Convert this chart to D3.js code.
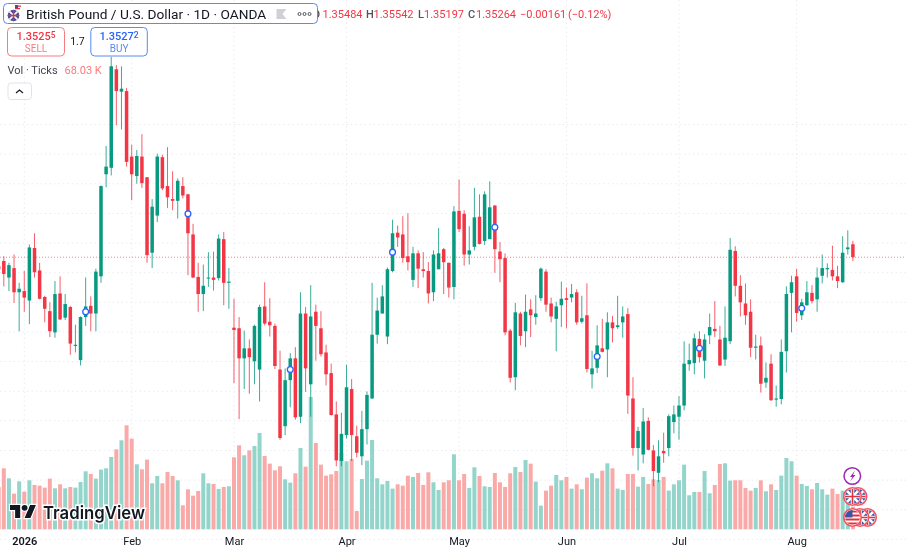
<!DOCTYPE html>
<html>
<head>
<meta charset="utf-8">
<script src="https://cdn.jsdelivr.net/npm/d3@7"></script>
<style>
	html, body { margin: 0; background: #fff; overflow: hidden; }
	text { font-family: Roboto, sans-serif; }
</style>
</head>
<body>
<script>
//daily bars, oldest first
let open = [
	1.3511,1.3520,1.3492,1.3508,1.3467,1.3469,1.3453,1.3542,1.3504,1.3459,
	1.3435,1.3399,1.3465,1.3424,1.3442,1.3376,1.3352,1.3425,1.3444,1.3431,
	1.3494,1.3667,1.3678,1.3845,1.3807,1.3808,1.3697,1.3664,1.3697,1.3662,
	1.3534,1.3597,1.3696,1.3647,1.3625,1.3622,1.3647,1.3633,1.3565,1.3493,
	1.3464,1.3491,1.3492,1.3491,1.3557,1.3483,1.3407,1.3406,1.3355,1.3372,
	1.3350,1.3336,1.3443,1.3417,1.3410,1.3336,1.3240,1.3318,1.3355,1.3256,
	1.3431,1.3311,1.3434,1.3406,1.3365,1.3330,1.3260,1.3181,1.3225,1.3303,
	1.3223,1.3189,1.3235,1.3287,1.3395,1.3431,1.3392,1.3503,1.3568,1.3565,
	1.3528,1.3488,1.3533,1.3506,1.3503,1.3467,1.3506,1.3540,1.3517,1.3476,
	1.3605,1.3600,1.3531,1.3544,1.3595,1.3554,1.3557,1.3614,1.3536,1.3525,
	1.3402,1.3323,1.3431,1.3401,1.3438,1.3425,1.3457,1.3502,1.3448,1.3422,
	1.3445,1.3457,1.3458,1.3467,1.3417,1.3428,1.3328,1.3339,1.3372,1.3370,
	1.3416,1.3408,1.3416,1.3430,1.3287,1.3203,1.3192,1.3249,1.3199,1.3161,
	1.3198,1.3203,1.3247,1.3256,1.3275,1.3345,1.3347,1.3388,1.3351,1.3394,
	1.3405,1.3387,1.3353,1.3384,1.3537,1.3478,1.3448,1.3434,1.3373,1.3377,
	1.3314,1.3346,1.3285,1.3286,1.3367,1.3466,1.3494,1.3428,1.3445,1.3466,
	1.3455,1.3495,1.3506,1.3505,1.3494,1.3484,1.3540,1.35484
];
let high = [
	1.3516,1.3528,1.3517,1.3531,1.3483,1.3503,1.3548,1.3567,1.3517,1.3461,
	1.3450,1.3486,1.3494,1.3464,1.3444,1.3412,1.3426,1.3492,1.3460,1.3507,
	1.3648,1.3715,1.3866,1.3852,1.3850,1.3813,1.3717,1.3708,1.3735,1.3662,
	1.3625,1.3702,1.3700,1.3713,1.3672,1.3660,1.3662,1.3634,1.3583,1.3517,
	1.3514,1.3535,1.3536,1.3565,1.3569,1.3508,1.3456,1.3425,1.3402,1.3387,
	1.3412,1.3446,1.3484,1.3457,1.3414,1.3368,1.3338,1.3364,1.3374,1.3467,
	1.3442,1.3479,1.3446,1.3435,1.3378,1.3346,1.3282,1.3263,1.3344,1.3320,
	1.3241,1.3266,1.3299,1.3483,1.3458,1.3479,1.3509,1.3590,1.3580,1.3596,
	1.3601,1.3544,1.3538,1.3535,1.3518,1.3538,1.3576,1.3542,1.3517,1.3613,
	1.3658,1.3606,1.3579,1.3644,1.3633,1.3638,1.3655,1.3615,1.3552,1.3533,
	1.3405,1.3449,1.3434,1.3463,1.3455,1.3462,1.3509,1.3506,1.3458,1.3451,
	1.3485,1.3475,1.3481,1.3472,1.3461,1.3482,1.3368,1.3411,1.3422,1.3433,
	1.3427,1.3461,1.3443,1.3440,1.3323,1.3239,1.3271,1.3255,1.3208,1.3216,
	1.3229,1.3260,1.3275,1.3291,1.3384,1.3380,1.3397,1.3401,1.3396,1.3431,
	1.3452,1.3410,1.3443,1.3559,1.3545,1.3496,1.3482,1.3455,1.3395,1.3392,
	1.3348,1.3362,1.3309,1.3387,1.3477,1.3495,1.3507,1.3456,1.3486,1.3479,
	1.3509,1.3531,1.3516,1.3546,1.3512,1.3562,1.3572,1.35542
];
let low = [
	1.3501,1.3477,1.3469,1.3449,1.3401,1.3434,1.3413,1.3492,1.3455,1.3416,
	1.3391,1.3390,1.3420,1.3420,1.3361,1.3365,1.3343,1.3410,1.3401,1.3401,
	1.3483,1.3645,1.3665,1.3750,1.3743,1.3680,1.3623,1.3651,1.3644,1.3517,
	1.3508,1.3586,1.3640,1.3610,1.3606,1.3592,1.3626,1.3496,1.3491,1.3434,
	1.3435,1.3476,1.3470,1.3487,1.3445,1.3439,1.3313,1.3252,1.3303,1.3295,
	1.3311,1.3282,1.3411,1.3392,1.3337,1.3217,1.3225,1.3272,1.3251,1.3245,
	1.3298,1.3256,1.3351,1.3358,1.3309,1.3258,1.3172,1.3172,1.3219,1.3181,
	1.3187,1.3174,1.3209,1.3286,1.3380,1.3431,1.3379,1.3501,1.3544,1.3517,
	1.3504,1.3476,1.3474,1.3492,1.3448,1.3452,1.3506,1.3464,1.3458,1.3455,
	1.3569,1.3512,1.3514,1.3538,1.3548,1.3547,1.3557,1.3500,1.3484,1.3394,
	1.3314,1.3301,1.3377,1.3374,1.3391,1.3412,1.3452,1.3434,1.3416,1.3367,
	1.3408,1.3406,1.3450,1.3412,1.3414,1.3331,1.3304,1.3330,1.3365,1.3323,
	1.3382,1.3405,1.3390,1.3261,1.3190,1.3165,1.3177,1.3199,1.3138,1.3145,
	1.3178,1.3189,1.3228,1.3217,1.3267,1.3334,1.3328,1.3348,1.3321,1.3379,
	1.3391,1.3342,1.3342,1.3379,1.3460,1.3426,1.3412,1.3357,1.3353,1.3297,
	1.3305,1.3283,1.3273,1.3277,1.3331,1.3399,1.3417,1.3420,1.3444,1.3448,
	1.3434,1.3482,1.3492,1.3487,1.3474,1.3483,1.3531,1.35197
];
let close = [
	1.3506,1.3498,1.3513,1.3467,1.3473,1.3458,1.3543,1.3501,1.3456,1.3439,
	1.3401,1.3464,1.3421,1.3447,1.3380,1.3378,1.3425,1.3443,1.3431,1.3502,
	1.3647,1.3680,1.3850,1.3808,1.3812,1.3688,1.3667,1.3698,1.3652,1.3530,
	1.3612,1.3697,1.3643,1.3628,1.3622,1.3656,1.3631,1.3567,1.3492,1.3464,
	1.3478,1.3492,1.3488,1.3558,1.3483,1.3485,1.3403,1.3355,1.3372,1.3357,
	1.3410,1.3442,1.3414,1.3411,1.3342,1.3220,1.3318,1.3355,1.3255,1.3431,
	1.3338,1.3426,1.3410,1.3362,1.3328,1.3259,1.3182,1.3227,1.3306,1.3225,
	1.3195,1.3235,1.3293,1.3395,1.3436,1.3460,1.3506,1.3567,1.3560,1.3525,
	1.3518,1.3533,1.3507,1.3503,1.3465,1.3531,1.3533,1.3518,1.3475,1.3604,
	1.3574,1.3531,1.3538,1.3594,1.3549,1.3633,1.3611,1.3540,1.3523,1.3399,
	1.3322,1.3433,1.3393,1.3434,1.3428,1.3431,1.3507,1.3446,1.3426,1.3443,
	1.3456,1.3454,1.3464,1.3416,1.3423,1.3337,1.3338,1.3377,1.3366,1.3416,
	1.3406,1.3411,1.3426,1.3292,1.3203,1.3232,1.3248,1.3200,1.3164,1.3189,
	1.3194,1.3257,1.3260,1.3275,1.3346,1.3352,1.3389,1.3357,1.3387,1.3408,
	1.3401,1.3343,1.3390,1.3539,1.3478,1.3450,1.3428,1.3373,1.3375,1.3312,
	1.3322,1.3284,1.3287,1.3366,1.3464,1.3484,1.3432,1.3450,1.3467,1.3452,
	1.3492,1.3508,1.3508,1.3494,1.3486,1.3534,1.3543,1.35264
];
//tick volume in thousands
let volume = [
	127,183,153,107,144,113,147,133,131,125,
	152,123,135,123,127,125,142,174,166,152,
	179,183,217,240,267,312,272,195,180,209,
	138,160,138,172,160,147,72,120,101,115,
	168,138,136,121,127,129,216,252,222,237,
	250,289,220,197,177,189,150,140,168,244,
	188,397,259,194,161,165,175,229,204,211,
	55,151,206,268,153,135,145,122,135,131,
	161,157,169,133,171,141,118,141,147,225,
	147,166,124,186,160,129,127,169,141,127,
	168,187,172,208,197,143,71,116,131,163,
	147,157,122,135,120,155,168,153,176,198,
	183,122,118,166,166,128,157,136,150,148,
	157,116,135,147,194,102,112,112,175,108,
	133,196,198,146,147,147,124,116,124,147,
	114,135,118,161,214,204,161,136,130,120,
	139,120,104,122,106,116,116,68.03
];

//time axis labels and which bar each one sits on
let tickLabels = ["2026", "Feb", "Mar", "Apr", "May", "Jun", "Jul", "Aug"];
let tickBars = [5, 26, 46, 68, 90, 111, 133, 156];

//the little ringed dots on some candles
let eventBars = [17, 37, 57, 77, 97, 117, 137, 157];
let eventPrices = [1.3434, 1.3600, 1.3336, 1.3535, 1.3577, 1.3358, 1.3372, 1.3440];

let legendLetters = ["O", "H", "L", "C"];
let legendNumbers = ["1.35484", "1.35542", "1.35197", "1.35264"];
let lastPrice = 1.35264;

let green = "#089981";
let red = "#f23645";
let blue = "#2962ff";
let softRed = "#f77c80";
let softBlue = "#5b8af0";
let volGreen = "#93d4cb";
let volRed = "#f9aaa8";
let textColor = "#131722";

let width = 906;
let height = 550;

//the reference is a slightly soft screenshot
let svg = d3.select("body").append("svg")
	.attr("width", width)
	.attr("height", height)
	.style("display", "block")
	.style("filter", "blur(0.35px)");

//bar number to pixels, same spacing for the whole chart
let x = d3.scaleLinear().domain([0, 167]).range([-1.3, 852.9]);
//price to pixels, 0.005 is about 29.5px
let y = d3.scaleLinear().domain([1.35, 1.40]).range([272.8, -22.2]);
let volY = d3.scaleLinear().domain([0, 300]).range([529.3, 429.3]);

let isUp = i => close[i] >= open[i];
let bars = d3.range(open.length);

//grid lines, the price step lands a little wider than the candle scale
let gridYs = d3.range(-5, 13).map(k => 1.35002 - k * 0.005022);
let grid = svg.append("g")
	.attr("stroke", "#e9ebf0")
	.attr("stroke-dasharray", "1.5 3");
grid.selectAll("line.h").data(gridYs).enter().append("line")
	.attr("class", "h")
	.attr("x1", 0).attr("x2", width)
	.attr("y1", d => y(d)).attr("y2", d => y(d));
grid.selectAll("line.v").data(tickBars).enter().append("line")
	.attr("class", "v")
	.attr("x1", d => x(d)).attr("x2", d => x(d))
	.attr("y1", 0).attr("y2", 530);

//volume goes under the candles
svg.append("g").selectAll("rect").data(bars).enter().append("rect")
	.attr("x", i => x(i) - 2)
	.attr("width", 4)
	.attr("y", i => volY(volume[i]))
	.attr("height", i => volY(0) - volY(volume[i]))
	.attr("fill", i => isUp(i) ? volGreen : volRed);

//last price line
svg.append("line")
	.attr("x1", 0).attr("x2", width)
	.attr("y1", y(lastPrice)).attr("y2", y(lastPrice))
	.attr("stroke", red)
	.attr("stroke-opacity", 0.6)
	.attr("stroke-dasharray", "1 2");

let candles = svg.append("g");
candles.selectAll("line").data(bars).enter().append("line")
	.attr("x1", i => x(i)).attr("x2", i => x(i))
	.attr("y1", i => y(high[i])).attr("y2", i => y(low[i]))
	.attr("stroke", i => isUp(i) ? green : red)
	.attr("stroke-opacity", 0.8);
candles.selectAll("rect").data(bars).enter().append("rect")
	.attr("x", i => x(i) - 1.75)
	.attr("width", 3.5)
	.attr("y", i => y(Math.max(open[i], close[i])))
	.attr("height", i => Math.max(1, y(Math.min(open[i], close[i])) - y(Math.max(open[i], close[i]))))
	.attr("fill", i => isUp(i) ? green : red);

//ringed dots
svg.append("g").selectAll("circle").data(eventBars).enter().append("circle")
	.attr("cx", d => x(d))
	.attr("cy", (d, i) => y(eventPrices[i]))
	.attr("r", 2.9)
	.attr("fill", "#fff")
	.attr("stroke", blue)
	.attr("stroke-width", 1.3);

//time axis
let timeAxis = d3.axisBottom(x)
	.tickValues(tickBars)
	.tickSize(0)
	.tickPadding(0)
	.tickFormat((d, i) => tickLabels[i]);
let timeG = svg.append("g")
	.attr("transform", "translate(0, 537)")
	.call(timeAxis);
timeG.select(".domain").remove();
timeG.selectAll("text")
	.attr("font-size", 11)
	.style("font-family", "Roboto, sans-serif")
	.attr("fill", textColor)
	.attr("font-weight", (d, i) => i == 0 ? 600 : 400);

//open high low close row, the O slides under the legend box
let letterXs = [312.5, 366, 418, 468];
let numberXs = [322.5, 373.5, 424, 476];
let ohlc = svg.append("g").attr("font-size", 11);
ohlc.selectAll("text.letter").data(legendLetters).enter().append("text")
	.attr("class", "letter")
	.attr("x", (d, i) => letterXs[i]).attr("y", 18)
	.attr("fill", "#50535e")
	.attr("font-weight", 500)
	.text(d => d);
ohlc.selectAll("text.number").data(legendNumbers).enter().append("text")
	.attr("class", "number")
	.attr("x", (d, i) => numberXs[i]).attr("y", 18)
	.attr("fill", red)
	.text(d => d);
ohlc.append("text").attr("x", 520).attr("y", 18).attr("fill", red).text("−0.00161");
ohlc.append("text").attr("x", 568).attr("y", 18).attr("fill", red).text("(−0.12%)");

//legend box on top
svg.append("rect")
	.attr("x", 3.5).attr("y", 3.5)
	.attr("width", 314).attr("height", 20)
	.attr("rx", 4)
	.attr("fill", "#fff")
	.attr("stroke", softBlue);
svg.append("text")
	.attr("x", 26).attr("y", 19.3)
	.attr("font-size", 13.7)
	.attr("fill", textColor)
	.text("British Pound / U.S. Dollar · 1D · OANDA");
svg.append("path")
	.attr("d", "M276.5 9h10l-4 5 4 5h-10z")
	.attr("fill", "#cfd1d6");
svg.selectAll("circle.more").data([299.5, 304.5, 309.5]).enter().append("circle")
	.attr("class", "more")
	.attr("cx", d => d).attr("cy", 14)
	.attr("r", 1.5)
	.attr("fill", "none")
	.attr("stroke", "#50535e");

//sell and buy buttons
function button(bx, bw, color, soft, price, last, label) {
	svg.append("rect")
		.attr("x", bx).attr("y", 27.5)
		.attr("width", bw).attr("height", 28.5)
		.attr("rx", 4)
		.attr("fill", "#fff")
		.attr("stroke", soft);
	let t = svg.append("text")
		.attr("x", bx + bw / 2).attr("y", 39.5)
		.attr("text-anchor", "middle")
		.attr("font-size", 11)
		.attr("font-weight", 500)
		.attr("fill", color);
	t.append("tspan").text(price);
	t.append("tspan").attr("font-size", 8.5).attr("dy", -2).text(last);
	svg.append("text")
		.attr("x", bx + bw / 2).attr("y", 52)
		.attr("text-anchor", "middle")
		.attr("font-size", 10)
		.attr("fill", soft)
		.text(label);
}
button(7.5, 57, red, softRed, "1.3525", "5", "SELL");
button(90.8, 56.5, blue, softBlue, "1.3527", "2", "BUY");
svg.append("text")
	.attr("x", 77.5).attr("y", 44.5)
	.attr("text-anchor", "middle")
	.attr("font-size", 10.5)
	.attr("fill", textColor)
	.text("1.7");

//volume legend
svg.append("text")
	.attr("x", 7.5).attr("y", 74)
	.attr("font-size", 11)
	.attr("fill", "#434651")
	.text("Vol · Ticks");
svg.append("text")
	.attr("x", 64.5).attr("y", 74)
	.attr("font-size", 11)
	.attr("fill", softRed)
	.text("68.03 K");
svg.append("rect")
	.attr("x", 8).attr("y", 83)
	.attr("width", 23.5).attr("height", 16.5)
	.attr("rx", 3)
	.attr("fill", "#fff")
	.attr("stroke", "#e0e3eb");
svg.append("path")
	.attr("d", "M16 93l3.5-3 3.5 3")
	.attr("fill", "none")
	.attr("stroke", textColor)
	.attr("stroke-width", 1.2);

//tradingview mark, white halo so it reads over the bars
let logo = svg.append("g");
logo.append("g")
	.attr("transform", "translate(10, 502) scale(0.73)")
	.attr("stroke", "#fff")
	.attr("stroke-width", 3)
	.attr("paint-order", "stroke")
	.attr("fill", textColor)
	.call(function(g) {
		g.append("path").attr("d", "M14 22H7V11H0V4h14v18zM28 22h-8l7.5-18h8L28 22z");
		g.append("circle").attr("cx", 20).attr("cy", 8).attr("r", 4);
	});
logo.append("text")
	.attr("x", 43).attr("y", 518.5)
	.attr("font-size", 17.5)
	.attr("font-weight", 600)
	.style("font-family", "Inter, sans-serif")
	.attr("textLength", 102)
	.attr("lengthAdjust", "spacingAndGlyphs")
	.attr("fill", textColor)
	.attr("stroke", "#fff")
	.attr("stroke-width", 3)
	.attr("paint-order", "stroke")
	.text("TradingView");

//round flags, clipped to a circle
let defs = svg.append("defs");
function flag(cx, cy, kind, id) {
	defs.append("clipPath").attr("id", id)
		.append("circle").attr("cx", cx).attr("cy", cy).attr("r", 7.5);
	let g = svg.append("g");
	g.append("circle")
		.attr("cx", cx).attr("cy", cy).attr("r", 8.7)
		.attr("fill", "#fff")
		.attr("stroke", "#f5525f")
		.attr("stroke-width", 1.6);
	let inner = g.append("g").attr("clip-path", `url(#${id})`);
	if (kind == "uk") {
		inner.append("rect").attr("x", cx - 8).attr("y", cy - 8).attr("width", 16).attr("height", 16).attr("fill", "#3a55a5");
		inner.append("path").attr("d", `M${cx - 8} ${cy - 8}L${cx + 8} ${cy + 8}M${cx + 8} ${cy - 8}L${cx - 8} ${cy + 8}`).attr("stroke", "#fff").attr("stroke-width", 2.5);
		inner.append("path").attr("d", `M${cx} ${cy - 8}V${cy + 8}M${cx - 8} ${cy}H${cx + 8}`).attr("stroke", "#fff").attr("stroke-width", 3.5);
		inner.append("path").attr("d", `M${cx} ${cy - 8}V${cy + 8}M${cx - 8} ${cy}H${cx + 8}`).attr("stroke", "#e0323c").attr("stroke-width", 1.6);
	} else {
		inner.append("rect").attr("x", cx - 8).attr("y", cy - 8).attr("width", 16).attr("height", 16).attr("fill", "#fff");
		inner.selectAll("rect.stripe").data([-7, -3, 1, 5]).enter().append("rect")
			.attr("class", "stripe")
			.attr("x", cx - 8).attr("y", d => cy + d)
			.attr("width", 16).attr("height", 2)
			.attr("fill", "#e0323c");
		inner.append("rect").attr("x", cx - 8).attr("y", cy - 8).attr("width", 8).attr("height", 8).attr("fill", "#3a55a5");
	}
}
flag(858, 496.5, "uk", "f1");
flag(852.5, 496.5, "uk", "f2");
flag(867.5, 517.5, "uk", "f3");
flag(860, 517.5, "uk", "f4");
flag(852.5, 517.5, "us", "f5");

//lightning event
svg.append("circle")
	.attr("cx", 852.3).attr("cy", 476).attr("r", 8.3)
	.attr("fill", "#fff")
	.attr("stroke", "#9c27b0")
	.attr("stroke-width", 1.5);
svg.append("path")
	.attr("d", "M855 470.5l-5 6.5h2.5l-2.5 4.5 5.5-6.5h-2.5z")
	.attr("fill", "#9c27b0");

//symbol icon in the legend, uk flag with a small us corner
defs.append("clipPath").attr("id", "sym")
	.append("circle").attr("cx", 13.5).attr("cy", 15.5).attr("r", 5.8);
let sym = svg.append("g").attr("clip-path", "url(#sym)");
sym.append("rect").attr("x", 7).attr("y", 9).attr("width", 13).attr("height", 13).attr("fill", "#3a55a5");
sym.append("path").attr("d", "M7 9L20 22M20 9L7 22").attr("stroke", "#fff").attr("stroke-width", 1.6);
sym.append("path").attr("d", "M13.5 9V22M7 15.5H20").attr("stroke", "#e0323c").attr("stroke-width", 1.4);
svg.append("path").attr("d", "M15 5.5h6v1.2h-6zM15 8h5v1.2h-5z").attr("fill", "#e0323c");
svg.append("rect").attr("x", 15).attr("y", 5).attr("width", 3).attr("height", 3).attr("fill", "#3a55a5");
</script>
</body>
</html>
